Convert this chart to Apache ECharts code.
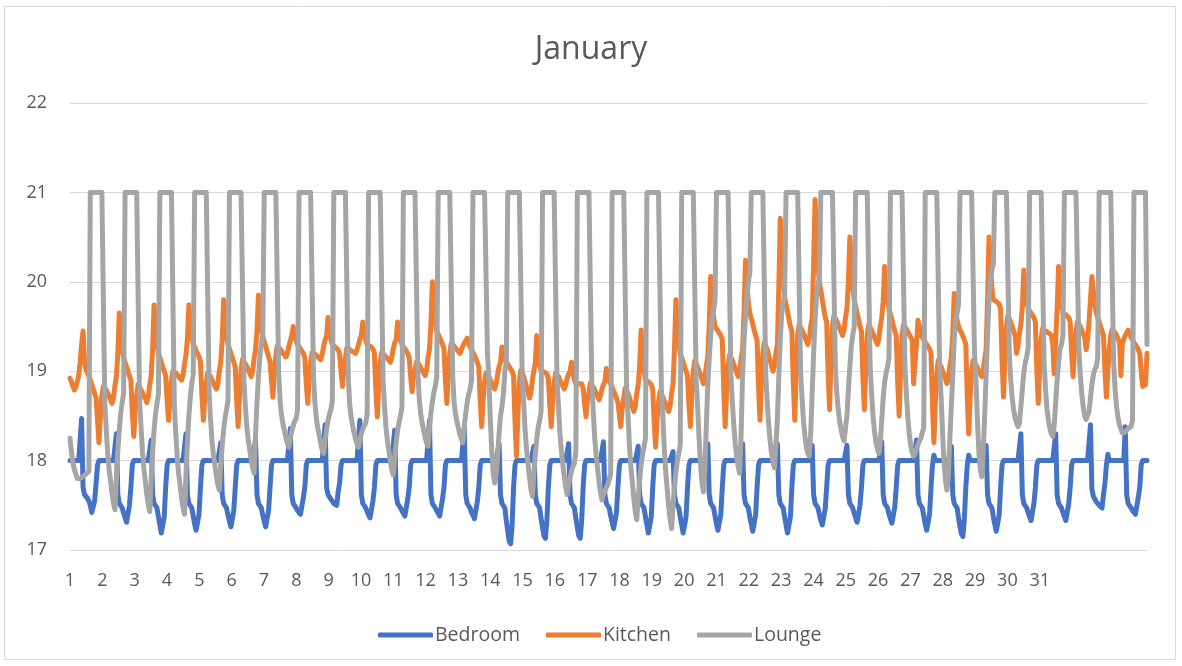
<!DOCTYPE html>
<html>
<head>
<meta charset="utf-8">
<title>January</title>
<script src="https://cdn.jsdelivr.net/npm/echarts@6/dist/echarts.min.js"></script>
<style>
  html, body { margin: 0; padding: 0; background: #ffffff; }
  #chart { width: 1182px; height: 666px; }
</style>
</head>
<body>
<div id="chart"></div>
<script>
// Hourly temperature readings for January, one row of 24 values per day.
const seriesNames = ['Bedroom', 'Kitchen', 'Lounge'];
const dayLabels = ['1','2','3','4','5','6','7','8','9','10','11','12','13','14','15','16',
  '17','18','19','20','21','22','23','24','25','26','27','28','29','30','31'];
const yTicks = [17, 18, 19, 20, 21, 22];

const bedroom = [
  18,18,18,18,18,18,18,18,18.47,17.7,17.62,17.6,17.58,17.55,17.5,17.42,17.4,17.55,17.75,17.95,18,18,18,18,
  18,18,18,18,18,18,18,18,18.3,17.62,17.52,17.5,17.47,17.41,17.36,17.31,17.3,17.5,17.7,17.95,18,18,18,18,
  18,18,18,18,18,18,18,18,18.23,17.62,17.52,17.5,17.47,17.37,17.28,17.19,17.17,17.37,17.7,17.95,18,18,18,18,
  18,18,18,18,18,18,18,18,18.3,17.62,17.52,17.5,17.47,17.38,17.29,17.22,17.2,17.4,17.7,17.95,18,18,18,18,
  18,18,18,18,18,18,18,18,18.2,17.62,17.52,17.5,17.47,17.39,17.32,17.26,17.24,17.44,17.7,17.95,18,18,18,18,
  18,18,18,18,18,18,18,18,18.23,17.62,17.52,17.5,17.47,17.39,17.32,17.26,17.24,17.44,17.7,17.95,18,18,18,18,
  18,18,18,18,18,18,18,18,18.36,17.62,17.52,17.5,17.47,17.44,17.42,17.4,17.39,17.59,17.7,17.95,18,18,18,18,
  18,18,18,18,18,18,18,18,18.4,17.7,17.62,17.6,17.57,17.55,17.52,17.51,17.5,17.65,17.75,17.95,18,18,18,18,
  18,18,18,18,18,18,18,18,18.45,17.62,17.52,17.5,17.47,17.43,17.39,17.36,17.35,17.55,17.7,17.95,18,18,18,18,
  18,18,18,18,18,18,18,18,18.34,17.62,17.52,17.5,17.47,17.44,17.41,17.38,17.37,17.57,17.7,17.95,18,18,18,18,
  18,18,18,18,18,18,18,18,18.45,17.62,17.52,17.5,17.47,17.44,17.41,17.38,17.37,17.57,17.7,17.95,18,18,18,18,
  18,18,18,18,18,18,18,18,18.36,17.62,17.52,17.5,17.47,17.42,17.39,17.35,17.34,17.54,17.7,17.95,18,18,18,18,
  18,18,18,18,18,18,18,18,18.19,17.62,17.52,17.5,17.47,17.33,17.21,17.1,17.07,17.27,17.7,17.95,18,18,18,18,
  18,18,18,18,18,18,18,18,18.16,17.62,17.52,17.5,17.47,17.35,17.25,17.16,17.13,17.33,17.7,17.95,18,18,18,18,
  18,18,18,18,18,18,18,18,18.19,17.62,17.52,17.5,17.47,17.35,17.25,17.16,17.13,17.33,17.7,17.95,18,18,18,18,
  18,18,18,18,18,18,18,18,18.21,17.62,17.52,17.5,17.47,17.38,17.31,17.24,17.22,17.42,17.7,17.95,18,18,18,18,
  18,18,18,18,18,18,18,18,18.16,17.62,17.52,17.5,17.47,17.37,17.28,17.19,17.17,17.37,17.7,17.95,18,18,18,18,
  18,18,18,18,18,18,18,18,18.1,17.62,17.52,17.5,17.47,17.37,17.28,17.19,17.17,17.37,17.7,17.95,18,18,18,18,
  18,18,18,18,18,18,18,18,18.19,17.62,17.52,17.5,17.47,17.38,17.29,17.22,17.2,17.4,17.7,17.95,18,18,18,18,
  18,18,18,18,18,18,18,18,18.19,17.62,17.52,17.5,17.47,17.37,17.29,17.21,17.19,17.39,17.7,17.95,18,18,18,18,
  18,18,18,18,18,18,18,18,18.19,17.62,17.52,17.5,17.47,17.37,17.28,17.19,17.17,17.37,17.7,17.95,18,18,18,18,
  18,18,18,18,18,18,18,18,18.17,17.62,17.52,17.5,17.47,17.4,17.33,17.28,17.26,17.46,17.7,17.95,18,18,18,18,
  18,18,18,18,18,18,18,18,18.17,17.62,17.52,17.5,17.47,17.41,17.36,17.31,17.3,17.5,17.7,17.95,18,18,18,18,
  18,18,18,18,18,18,18,18,18.21,17.62,17.52,17.5,17.47,17.4,17.35,17.3,17.28,17.48,17.7,17.95,18,18,18,18,
  18,18,18,18,18,18,18,18,18.23,17.62,17.52,17.5,17.47,17.38,17.29,17.22,17.2,17.4,17.7,17.95,18.06,18,18,18,
  18,18,18,18,18,18,18,18,18.16,17.62,17.52,17.5,17.47,17.36,17.26,17.18,17.15,17.35,17.7,17.95,18.06,18,18,18,
  18,18,18,18,18,18,18,18,18.17,17.62,17.52,17.5,17.47,17.37,17.29,17.21,17.19,17.39,17.7,17.95,18,18,18,18,
  18,18,18,18,18,18,18,18,18.3,17.62,17.52,17.5,17.47,17.42,17.37,17.33,17.32,17.52,17.7,17.95,18,18,18,18,
  18,18,18,18,18,18,18,18,18.3,17.62,17.52,17.5,17.47,17.42,17.37,17.33,17.32,17.52,17.7,17.95,18,18,18,18,
  18,18,18,18,18,18,18,18,18.4,17.68,17.6,17.57,17.54,17.52,17.5,17.48,17.47,17.62,17.75,17.95,18.07,18,18,18,
  18,18,18,18,18,18,18,18,18.38,17.62,17.52,17.5,17.47,17.44,17.42,17.4,17.39,17.59,17.7,17.95,18,18,18,18
];

const kitchen = [
  18.92,18.88,18.83,18.79,18.82,18.88,18.95,19.1,19.3,19.45,19.12,19.02,18.98,18.95,18.9,18.85,18.8,18.75,18.7,18.45,18.2,18.5,18.73,18.83,
  18.83,18.79,18.75,18.72,18.68,18.64,18.7,18.84,18.94,19.2,19.65,19.43,19.25,19.15,19.1,19.05,19.0,18.95,18.9,18.54,18.27,18.55,18.73,18.85,
  18.83,18.79,18.76,18.72,18.69,18.65,18.71,18.85,18.95,19.25,19.74,19.5,19.31,19.2,19.15,19.1,19.05,19.0,18.95,18.67,18.45,18.72,18.9,19.0,
  19.0,18.98,18.96,18.94,18.92,18.9,18.96,19.08,19.18,19.36,19.74,19.54,19.39,19.3,19.27,19.23,19.2,19.16,19.11,18.73,18.45,18.71,18.87,18.98,
  18.97,18.94,18.9,18.87,18.83,18.8,18.86,19.0,19.1,19.35,19.8,19.58,19.4,19.3,19.25,19.2,19.15,19.1,19.05,18.67,18.38,18.75,19.02,19.13,
  19.12,19.08,19.05,19.01,18.98,18.94,19.0,19.14,19.24,19.44,19.85,19.64,19.48,19.39,19.33,19.28,19.22,19.16,19.11,18.89,18.71,18.99,19.17,19.28,
  19.27,19.25,19.23,19.2,19.18,19.16,19.2,19.28,19.34,19.4,19.5,19.41,19.34,19.3,19.28,19.25,19.23,19.2,19.15,18.86,18.64,18.92,19.1,19.21,
  19.2,19.19,19.17,19.16,19.14,19.13,19.19,19.28,19.35,19.39,19.6,19.47,19.36,19.3,19.29,19.27,19.26,19.24,19.19,18.99,18.83,19.04,19.15,19.26,
  19.25,19.24,19.23,19.22,19.21,19.2,19.24,19.3,19.36,19.4,19.55,19.44,19.35,19.3,19.29,19.28,19.26,19.25,19.2,18.79,18.49,18.85,19.1,19.21,
  19.2,19.18,19.16,19.14,19.12,19.1,19.16,19.25,19.32,19.35,19.55,19.44,19.35,19.3,19.28,19.25,19.23,19.2,19.15,18.94,18.77,18.94,19.0,19.1,
  19.1,19.07,19.04,19.01,18.98,18.95,19.01,19.15,19.25,19.53,20.0,19.75,19.56,19.45,19.41,19.38,19.34,19.3,19.25,18.9,18.64,18.97,19.2,19.31,
  19.3,19.28,19.26,19.24,19.22,19.2,19.24,19.28,19.31,19.33,19.37,19.32,19.27,19.25,19.21,19.18,19.14,19.1,19.05,18.67,18.38,18.68,18.87,18.98,
  18.97,18.94,18.9,18.87,18.83,18.8,18.86,18.96,19.05,19.1,19.27,19.19,19.13,19.1,19.08,19.05,19.03,19.0,18.95,18.43,18.05,18.52,18.88,19.01,
  19.0,18.94,18.88,18.82,18.76,18.7,18.76,18.9,19.0,19.09,19.4,19.22,19.08,19.0,18.99,18.99,18.98,18.97,18.92,18.62,18.38,18.67,18.87,18.98,
  18.97,18.94,18.9,18.87,18.83,18.8,18.85,18.92,18.97,19.0,19.1,18.99,18.9,18.86,18.86,18.86,18.86,18.86,18.81,18.64,18.49,18.68,18.76,18.87,
  18.86,18.82,18.79,18.75,18.72,18.68,18.73,18.8,18.85,18.88,19.03,18.95,18.89,18.86,18.82,18.78,18.74,18.7,18.65,18.51,18.38,18.59,18.7,18.81,
  18.8,18.75,18.7,18.65,18.6,18.55,18.61,18.75,18.85,19.05,19.46,19.21,19.01,18.9,18.89,18.88,18.86,18.85,18.8,18.43,18.15,18.45,18.65,18.77,
  18.75,18.71,18.67,18.63,18.59,18.55,18.61,18.75,18.85,19.24,19.8,19.53,19.32,19.2,19.15,19.1,19.05,19.0,18.95,18.63,18.38,18.74,19.0,19.12,
  19.1,19.05,19.0,18.96,18.91,18.86,18.92,19.06,19.16,19.52,20.06,19.81,19.61,19.5,19.48,19.45,19.43,19.4,19.35,18.79,18.38,18.77,19.06,19.18,
  19.16,19.12,19.07,19.03,18.98,18.94,19.0,19.14,19.24,19.66,20.24,19.97,19.77,19.65,19.59,19.53,19.46,19.4,19.35,18.83,18.45,18.88,19.2,19.32,
  19.3,19.24,19.18,19.12,19.06,19.0,19.06,19.2,19.3,19.94,20.71,20.31,20.01,19.83,19.75,19.67,19.58,19.5,19.45,18.87,18.45,18.98,19.4,19.52,
  19.5,19.46,19.42,19.38,19.34,19.3,19.36,19.5,19.6,20.19,20.92,20.51,20.18,20.0,19.9,19.8,19.7,19.6,19.55,18.98,18.57,19.09,19.5,19.62,
  19.6,19.56,19.52,19.48,19.44,19.4,19.46,19.6,19.7,20.0,20.5,20.19,19.94,19.8,19.73,19.65,19.58,19.5,19.45,18.94,18.57,19.04,19.4,19.52,
  19.5,19.46,19.42,19.38,19.34,19.3,19.36,19.5,19.6,19.78,20.17,19.96,19.79,19.7,19.64,19.58,19.51,19.45,19.4,18.88,18.5,19.0,19.4,19.52,
  19.5,19.47,19.44,19.41,19.38,19.35,18.86,19.1,19.3,19.57,19.5,19.42,19.38,19.35,19.33,19.3,19.28,19.25,19.2,18.62,18.2,18.65,18.98,19.12,
  19.1,19.05,19.0,18.96,18.91,18.86,18.92,19.06,19.16,19.42,19.87,19.7,19.57,19.5,19.46,19.43,19.39,19.35,19.3,18.72,18.3,18.7,19.0,19.12,
  19.1,19.07,19.04,19.0,18.97,18.94,19.0,19.14,19.24,19.8,20.5,20.19,19.94,19.8,19.79,19.78,19.76,19.75,19.7,19.13,18.71,19.15,19.5,19.62,
  19.6,19.55,19.5,19.45,19.4,19.2,19.28,19.42,19.52,19.72,20.13,19.94,19.78,19.7,19.68,19.65,19.63,19.6,19.55,19.02,18.64,19.05,19.36,19.48,
  19.46,19.45,19.44,19.43,19.42,19.4,19.3,18.97,19.35,19.7,20.17,19.94,19.75,19.65,19.64,19.63,19.61,19.6,19.55,19.2,18.94,19.24,19.44,19.55,
  19.54,19.5,19.46,19.42,19.38,19.24,19.35,19.55,19.8,20.06,19.9,19.75,19.65,19.6,19.55,19.5,19.45,19.4,19.0,18.71,19.0,19.25,19.4,19.47,
  19.46,19.43,19.4,19.36,19.33,18.95,19.3,19.36,19.4,19.43,19.46,19.42,19.38,19.35,19.32,19.3,19.27,19.24,19.2,19.0,18.83,18.82,18.85,19.2
];

const lounge = [
  18.25,18.1,17.98,17.9,17.85,17.8,17.8,17.8,17.82,17.82,17.83,17.85,17.86,17.88,21,21,21,21,21,21,21,21,21,21,
  18.65,18.35,18.08,17.9,17.77,17.63,17.52,17.45,17.81,18.11,18.35,18.53,18.65,18.75,21,21,21,21,21,21,21,21,21,21,
  18.68,18.38,18.1,17.91,17.76,17.62,17.51,17.43,17.79,18.1,18.34,18.52,18.64,18.74,21,21,21,21,21,21,21,21,21,21,
  18.6,18.3,18.03,17.85,17.72,17.58,17.47,17.4,17.84,18.2,18.5,18.71,18.86,18.96,21,21,21,21,21,21,21,21,21,21,
  18.75,18.45,18.22,18.06,17.94,17.83,17.73,17.67,17.94,18.17,18.35,18.48,18.57,18.67,21,21,21,21,21,21,21,21,21,21,
  18.9,18.6,18.38,18.23,18.12,18.01,17.92,17.86,18.29,18.65,18.94,19.16,19.3,19.4,21,21,21,21,21,21,21,21,21,21,
  18.95,18.65,18.5,18.4,18.33,18.25,18.19,18.15,18.25,18.33,18.39,18.44,18.47,18.57,21,21,21,21,21,21,21,21,21,21,
  18.94,18.64,18.47,18.36,18.28,18.19,18.12,18.08,18.23,18.35,18.45,18.52,18.57,18.67,21,21,21,21,21,21,21,21,21,21,
  18.92,18.62,18.48,18.39,18.31,18.24,18.19,18.15,18.23,18.3,18.35,18.39,18.42,18.52,21,21,21,21,21,21,21,21,21,21,
  18.9,18.6,18.37,18.22,18.11,17.99,17.9,17.84,18.04,18.2,18.34,18.43,18.5,18.6,21,21,21,21,21,21,21,21,21,21,
  18.98,18.68,18.52,18.42,18.34,18.26,18.2,18.16,18.36,18.53,18.66,18.76,18.83,18.93,21,21,21,21,21,21,21,21,21,21,
  18.95,18.65,18.52,18.43,18.36,18.29,18.24,18.2,18.38,18.53,18.65,18.74,18.8,18.9,21,21,21,21,21,21,21,21,21,21,
  19.2,18.9,18.45,18.1,17.85,17.75,17.85,18.05,18.3,18.5,18.6,18.75,19.0,19.1,21,21,21,21,21,21,21,21,21,21,
  18.94,18.64,18.33,18.12,17.96,17.81,17.68,17.6,17.86,18.07,18.24,18.37,18.45,18.55,21,21,21,21,21,21,21,21,21,21,
  18.9,18.6,18.31,18.11,17.96,17.82,17.7,17.62,17.73,17.81,17.88,17.94,17.97,18.1,21,21,21,21,21,21,21,21,21,21,
  18.85,18.55,18.25,18.06,17.91,17.76,17.64,17.56,17.62,17.66,17.7,17.73,17.75,17.85,21,21,21,21,21,21,21,21,21,21,
  18.8,18.5,18.15,17.92,17.75,17.57,17.43,17.34,17.58,17.79,17.95,18.07,18.15,18.25,21,21,21,21,21,21,21,21,21,21,
  18.8,18.5,18.12,17.87,17.68,17.49,17.34,17.24,17.49,17.7,17.87,18.0,18.08,18.18,21,21,21,21,21,21,21,21,21,21,
  18.9,18.6,18.25,17.95,17.75,17.65,17.9,18.4,18.85,19.15,19.4,19.58,19.68,19.8,21,21,21,21,21,21,21,21,21,21,
  18.94,18.64,18.38,18.18,18.03,17.93,17.86,18.3,18.95,19.35,19.6,19.85,20.0,20.1,21,21,21,21,21,21,21,21,21,21,
  18.95,18.65,18.4,18.22,18.08,17.98,17.92,17.9,18.45,18.95,19.35,19.65,19.76,19.86,21,21,21,21,21,21,21,21,21,21,
  19.0,18.7,18.45,18.28,18.15,18.08,18.05,18.3,18.75,19.2,19.55,19.85,19.95,20.05,21,21,21,21,21,21,21,21,21,21,
  19.05,18.75,18.57,18.44,18.34,18.27,18.22,18.2,18.5,18.8,19.05,19.28,19.4,19.5,21,21,21,21,21,21,21,21,21,21,
  19.05,18.75,18.5,18.33,18.2,18.13,18.08,18.2,18.45,18.7,18.88,18.98,19.05,19.15,21,21,21,21,21,21,21,21,21,21,
  19.05,18.75,18.48,18.3,18.17,18.09,18.05,18.08,18.13,18.18,18.22,18.25,18.27,18.37,21,21,21,21,21,21,21,21,21,21,
  19.0,18.7,18.3,17.98,17.78,17.67,17.85,18.25,18.6,18.95,19.35,19.57,19.65,19.75,21,21,21,21,21,21,21,21,21,21,
  19.2,18.9,18.45,18.1,17.9,17.82,18.1,18.5,18.95,19.4,19.8,20.05,20.13,20.2,21,21,21,21,21,21,21,21,21,21,
  19.2,18.9,18.7,18.57,18.48,18.42,18.38,18.42,18.6,18.8,18.98,19.1,19.16,19.26,21,21,21,21,21,21,21,21,21,21,
  19.1,18.8,18.58,18.45,18.36,18.3,18.27,18.4,18.65,18.9,19.1,19.25,19.3,19.4,21,21,21,21,21,21,21,21,21,21,
  19.25,18.95,18.75,18.6,18.5,18.46,18.45,18.55,18.7,18.85,18.96,19.02,19.05,19.15,21,21,21,21,21,21,21,21,21,21,
  19.1,18.8,18.6,18.48,18.4,18.35,18.31,18.3,18.32,18.34,18.36,18.37,18.38,18.45,21,21,21,21,21,21,21,21,21,19.3
];

// Day numbers along the bottom are spaced every 22.3 readings.
const LABEL_STEP = 22.3;
const TEXT = '#595959';
const GRID = '#D9D9D9';
const FONT = '"Open Sans", "Liberation Sans", sans-serif';

const chart = echarts.init(document.getElementById('chart'), null, { renderer: 'canvas' });

function toPairs(values) {
  return values.map((v, i) => [i, v]);
}

const colors = ['#4472C4', '#ED7D31', '#A5A5A5'];
const allValues = [bedroom, kitchen, lounge];

chart.setOption({
  animation: false,
  backgroundColor: '#ffffff',
  color: colors,
  title: {
    text: 'January',
    left: 'center',
    top: 29,
    textStyle: { color: TEXT, fontFamily: FONT, fontSize: 32, fontWeight: 'normal' }
  },
  graphic: [{
    type: 'rect',
    shape: { x: 4.5, y: 6.5, width: 1171, height: 653 },
    style: { fill: 'none', stroke: GRID, lineWidth: 1 },
    silent: true
  }],
  legend: {
    data: seriesNames,
    icon: 'roundRect',
    left: 373,
    top: 620,
    itemWidth: 55,
    itemHeight: 5,
    itemGap: 26,
    textStyle: { color: TEXT, fontFamily: FONT, fontSize: 19.5, padding: [0, 0, 0, -3] }
  },
  grid: { left: 70, right: 35, top: 103, bottom: 116, containLabel: false },
  xAxis: {
    type: 'value',
    min: 0,
    max: lounge.length - 1,
    interval: LABEL_STEP,
    axisLine: { show: false },
    axisTick: { show: false },
    splitLine: { show: false },
    axisLabel: {
      color: TEXT,
      fontFamily: FONT,
      fontSize: 18,
      margin: 22,
      showMaxLabel: false,
      formatter: function (v) {
        const k = Math.round(v / LABEL_STEP);
        if (Math.abs(v - k * LABEL_STEP) > 0.05 || k >= dayLabels.length) return '';
        return dayLabels[k];
      }
    }
  },
  yAxis: {
    type: 'value',
    min: yTicks[0],
    max: yTicks[yTicks.length - 1],
    interval: 1,
    axisLine: { show: false },
    axisTick: { show: false },
    axisLabel: { color: TEXT, fontFamily: FONT, fontSize: 18, margin: 23 },
    splitLine: { lineStyle: { color: GRID, width: 1 } }
  },
  series: seriesNames.map((name, s) => ({
    name: name,
    type: 'line',
    data: toPairs(allValues[s]),
    symbol: 'none',
    showSymbol: false,
    smooth: false,
    lineStyle: { width: 5, color: colors[s], cap: 'round', join: 'round' },
    itemStyle: { color: colors[s] },
    z: 2 + s
  }))
});
</script>
</body>
</html>
